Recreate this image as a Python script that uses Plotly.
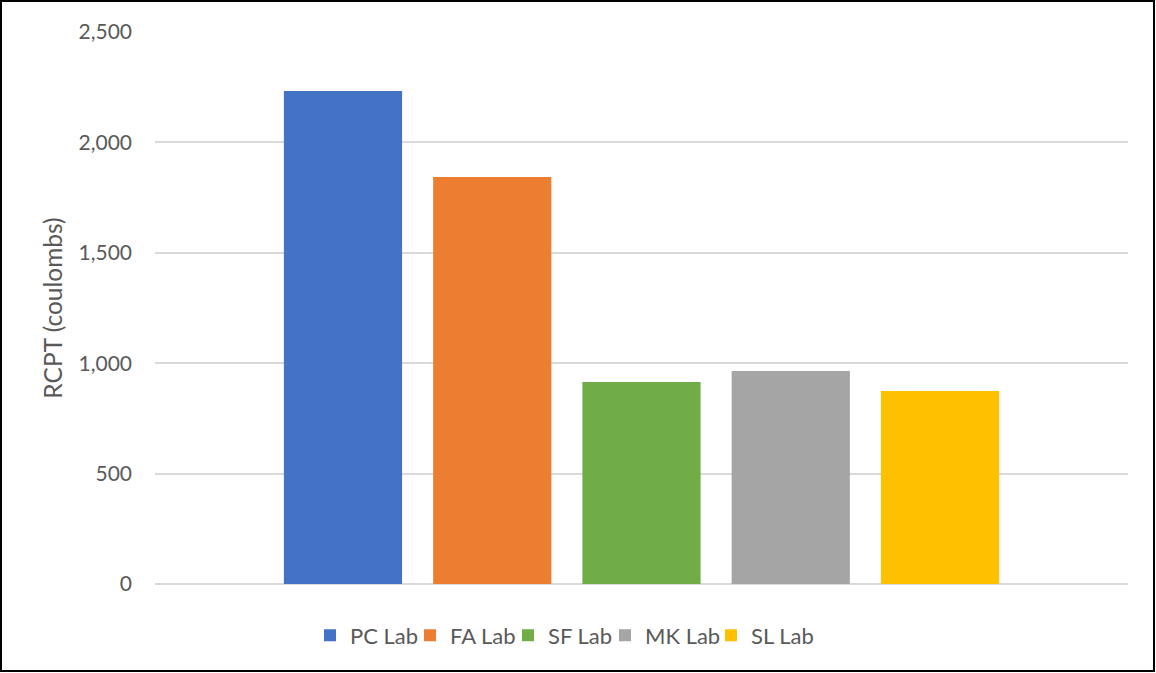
import plotly.graph_objects as go

series = ["PC Lab", "FA Lab", "SF Lab", "MK Lab", "SL Lab"]
values = [2233, 1843, 915, 965, 874]
colors = ["#4472C4", "#ED7D31", "#70AD47", "#A5A5A5", "#FFC000"]
category = [""]
legend_text_px = [346, 446, 544, 641, 747]  # left edge of each legend label

W, H = 1156, 673
L, R, T, B = 155, 28, 32, 89
pw = W - L - R
ph = H - T - B

fig = go.Figure()
legend_layout = {}
for i, (name, v, c) in enumerate(zip(series, values, colors)):
    key = "legend" if i == 0 else f"legend{i + 1}"
    fig.add_trace(go.Bar(x=category, y=[v], name=name, legend=key,
                         marker=dict(color=c, line=dict(width=0))))
    legend_layout[key] = dict(
        orientation="h", x=(legend_text_px[i] - 36 - L) / pw, xanchor="left",
        y=-0.055, yanchor="top", bgcolor="rgba(0,0,0,0)",
        font=dict(size=22, color="#595959"), itemwidth=30,
    )

fig.add_shape(type="rect", xref="paper", yref="paper",
              x0=(1 - L) / pw, x1=(W - 2 - L) / pw,
              y0=-(H - 2 - T - ph) / ph, y1=1 + (T - 1) / ph,
              line=dict(color="#000000", width=2), layer="above")

fig.update_layout(
    width=W, height=H,
    margin=dict(l=L, r=R, t=T, b=B),
    paper_bgcolor="white", plot_bgcolor="white",
    barmode="group", bargap=0.233, bargroupgap=0.208,
    font=dict(family="Lato, Open Sans, sans-serif", size=21, color="#595959"),
    showlegend=True,
    xaxis=dict(showticklabels=False, showgrid=False, zeroline=False, showline=False, ticks=""),
    yaxis=dict(range=[0, 2500], dtick=500, tickformat=",d", showgrid=True,
               gridcolor="#D9D9D9", gridwidth=1.5, zeroline=True, zerolinecolor="#D9D9D9",
               zerolinewidth=1.5, showline=False, ticks="", ticklabelstandoff=22,
               tickfont=dict(size=21),
               title=dict(text="RCPT (coulombs)", font=dict(size=24.5, color="#595959"), standoff=8)),
    **legend_layout,
)

fig.write_html("out.html", config={"displayModeBar": False},
               post_script="document.body.style.margin='0';document.body.style.overflow='hidden';")
